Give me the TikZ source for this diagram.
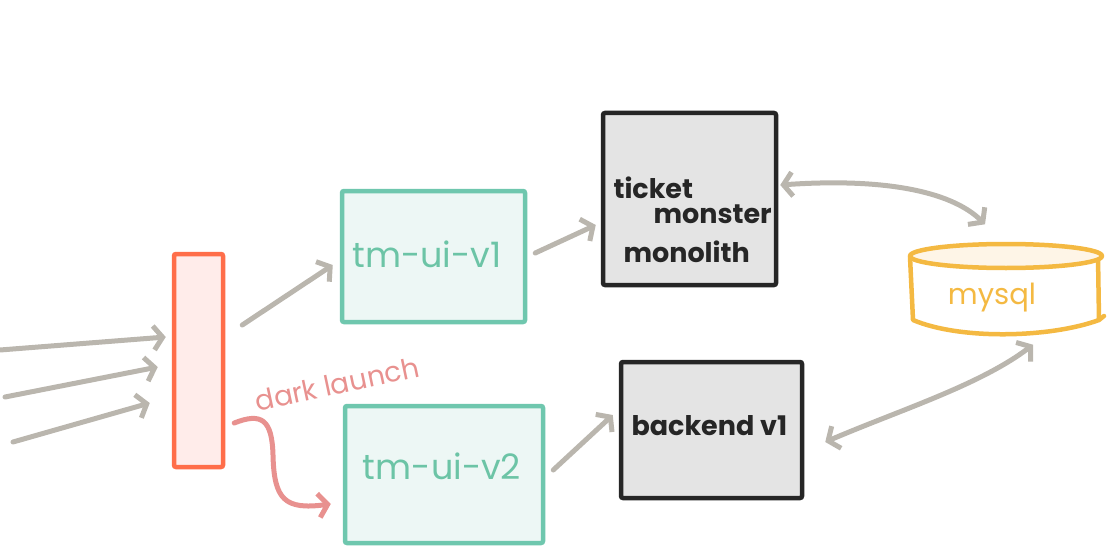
\documentclass[tikz,border=0pt]{standalone}
\usepackage{fontspec}
\setmainfont{Poppins}
\usetikzlibrary{arrows.meta,calc}
\definecolor{arrowgray}{HTML}{BAB6AE}
\definecolor{tealline}{HTML}{6FC7AE}
\definecolor{tealfill}{HTML}{EDF7F5}
\definecolor{tealtext}{HTML}{6CC4A6}
\definecolor{barline}{HTML}{FF6E4A}
\definecolor{barfill}{HTML}{FFECEA}
\definecolor{pinkline}{HTML}{E8918F}
\definecolor{darkline}{HTML}{262626}
\definecolor{grayfill}{HTML}{E4E4E4}
\definecolor{dbline}{HTML}{F4B942}
\definecolor{dbtop}{HTML}{FEF5E7}
\tikzset{
  x=1pt, y=-1pt,
  tip/.style={-{Straight Barb[length=9pt,width=24pt]}},
  conn/.style={draw=arrowgray, line width=5pt, line cap=round, tip},
  both/.style={draw=arrowgray, line width=5pt, line cap=round, {Straight Barb[length=9pt,width=24pt]}-{Straight Barb[length=9pt,width=24pt]}},
  uibox/.style={draw=tealline, fill=tealfill, line width=4.5pt, rounded corners=2pt, inner sep=0pt},
  svcbox/.style={draw=darkline, fill=grayfill, line width=4.5pt, rounded corners=2pt, inner sep=0pt},
  uitext/.style={text=tealtext, font=\fontsize{35}{40}\selectfont},
  svctext/.style={text=darkline, font=\fontsize{27}{30}\selectfont\bfseries},
  dbstroke/.style={draw=dbline, line width=4.5pt, line cap=round, line join=round},
}
\begin{document}
\begin{tikzpicture}
\useasboundingbox (0,0) rectangle (1113,559);
% gateway bar
\node[draw=barline, fill=barfill, line width=4.5pt, rounded corners=2pt, minimum width=49pt, minimum height=213pt, inner sep=0pt] (bar) at (198.5,360.5) {};
% UI boxes
\node[uibox, minimum width=183pt, minimum height=131pt] (v1) at (433.5,256.5) {};
\node[uitext] (v1t) at (427,254) {tm-ui-v1};
\node[uibox, minimum width=198pt, minimum height=137pt] (v2) at (444,474.5) {};
\node[uitext] (v2t) at (442,466) {tm-ui-v2};
% service boxes
\node[svcbox, minimum width=173pt, minimum height=172pt] (mono) at (689.5,199) {};
\node[svctext, anchor=west] (t1) at (610,188) {ticket};
\node[svctext, anchor=west] (t2) at (650,214) {monster};
\node[svctext, anchor=west] (t3) at (620,252) {monolith};
\node[svcbox, minimum width=181pt, minimum height=136pt] (back) at (711.5,430) {};
\node[svctext, anchor=west, font=\fontsize{27}{30}\selectfont\bfseries] (bt) at (628,426) {backend v1};
% database
\node[minimum width=192pt, minimum height=95pt, inner sep=0pt] (db) at (1006,290) {};
\filldraw[dbstroke, fill=white] (910,257) -- (913,320)
  .. controls (960,340) and (1050,338) .. (1099,320) -- (1098,257);
\draw[dbstroke] (1099,320) -- (1104,316);
\filldraw[dbstroke, fill=dbtop] (1006,256) ellipse [x radius=96, y radius=12];
\node[text=dbline, font=\fontsize{29}{32}\selectfont] (dbt) at (992,298) {mysql};
% incoming traffic
\coordinate (in1) at (0,350);
\coordinate (in2) at (5,397);
\coordinate (in3) at (13,442);
\draw[conn] (in1) -- ($(bar.west)+(-6,-23.5)$);
\draw[conn] (in2) -- ($(bar.west)+(-14,6.5)$);
\draw[conn] (in3) -- ($(bar.west)+(-22,42.5)$);
% bar to UIs
\draw[conn] ($(bar.east)+(17,-35.5)$) -- ($(v1.west)+(-7,8.5)$);
\draw[draw=pinkline, line width=5pt, line cap=round, tip] ($(bar.east)+(9,62.5)$)
  .. controls (262,412) and (272,420) .. (273,455)
  .. controls (274,500) and (285,510) .. ($(v2.west)+(-12,29.5)$);
\node[text=pinkline, rotate=12, font=\fontsize{28}{32}\selectfont] (dl) at (337,384) {dark launch};
% UIs to services
\draw[conn] ($(v1.east)+(8,-3.5)$) -- ($(mono.west)+(-5,26)$);
\draw[conn] ($(v2.east)+(8,-4.5)$) -- ($(back.west)+(-6,-15)$);
% services to database
\draw[both] ($(mono.east)+(2,-14)$) .. controls (880,178) and (950,190) .. ($(db.north)+(-21,-18)$);
\draw[both] ($(back.east)+(21,12)$) .. controls (900,410) and (980,385) .. ($(db.south)+(27,7)$);
\end{tikzpicture}
\end{document}
